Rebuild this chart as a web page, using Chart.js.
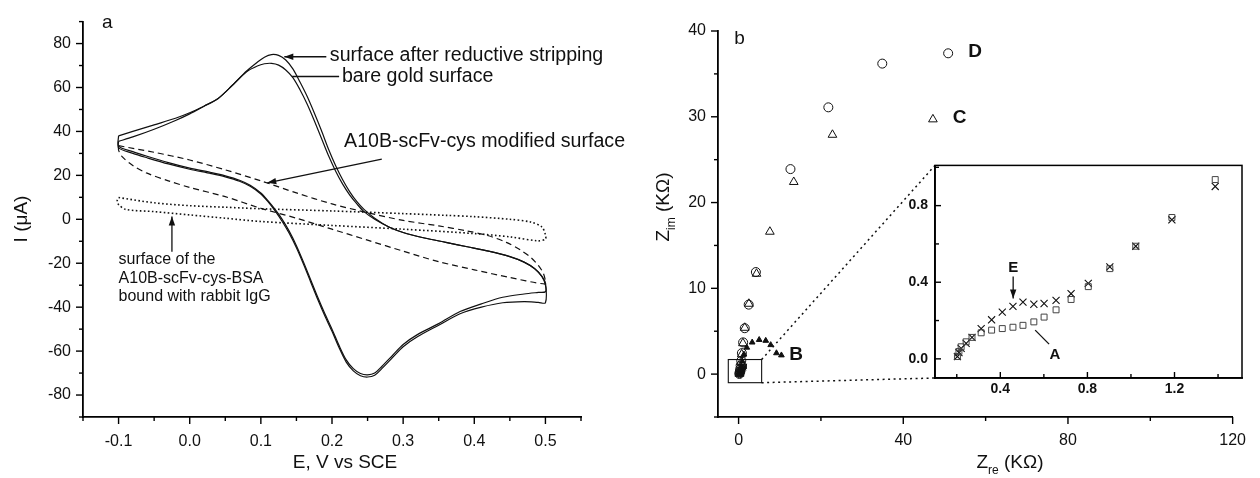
<!DOCTYPE html>
<html>
<head>
<meta charset="utf-8">
<script src="https://cdn.jsdelivr.net/npm/chart.js@4.4.1/dist/chart.umd.min.js"></script>
<style>
  body { margin: 0; background: #fff; }
  #wrap { position: relative; width: 1260px; height: 478px; }
  canvas { position: absolute; }
  #cvA { left: 0; top: 0; }
  #cvB { left: 620px; top: 0; }
  #cvInset { left: 880px; top: 150px; }
</style>
</head>
<body>
<div id="wrap">
  <canvas id="cvA" width="650" height="478"></canvas>
  <canvas id="cvB" width="640" height="478"></canvas>
  <canvas id="cvInset" width="380" height="260"></canvas>
</div>
<script>
const FONT = '"Liberation Sans", Arial, Helvetica, sans-serif';
const INK = '#111';

// ---- panel a: cyclic voltammograms (E in V vs SCE, I in uA) ----
// both solid curves were read on the same potential grid (forward then reverse scan)
const scanE = [-0.1, -0.08, -0.05, -0.02, 0.0, 0.02, 0.04, 0.06, 0.08, 0.095,
  0.105, 0.115, 0.125, 0.135, 0.145, 0.155, 0.165, 0.175, 0.185, 0.195,
  0.205, 0.215, 0.225, 0.235, 0.245, 0.26, 0.28, 0.3, 0.33, 0.36,
  0.39, 0.42, 0.45, 0.47, 0.485, 0.495, 0.5,
  0.5, 0.49, 0.47, 0.44, 0.41, 0.38, 0.35, 0.32, 0.3, 0.285,
  0.27, 0.26, 0.25, 0.24, 0.23, 0.22, 0.21, 0.2, 0.19, 0.18,
  0.17, 0.16, 0.15, 0.14, 0.13, 0.12, 0.11, 0.1, 0.085, 0.07,
  0.05, 0.03, 0.0, -0.03, -0.06, -0.08, -0.1, -0.1];
const strippedI = [38, 40, 43, 46, 48.5, 51.5, 55, 61, 67.5, 71.5,
  73.8, 75, 74.6, 72.5, 68.5, 62.5, 56, 48.5, 40.5, 32,
  24.5, 18, 12.5, 8, 4.5, 0.5, -3.5, -6, -8.5, -10.5,
  -12.5, -14.5, -17, -19.5, -22.5, -26, -30,
  -33, -33.3, -34, -35.5, -38.5, -42, -47.5, -52.5, -57, -62,
  -67, -70, -70.8, -70.2, -68, -64, -57.5, -50, -43, -35.5,
  -27.5, -19.5, -12, -5.5, 0, 4.5, 8.5, 12, 15.5, 17.8,
  19.8, 21.3, 23.3, 25.8, 28.7, 30.8, 33.3, 38];
const bareI = [35.5, 37.5, 41, 45, 48, 51.5, 55, 61, 67.2, 69.8,
  70.8, 71, 70.2, 68, 64.5, 59, 52.5, 45, 37, 29,
  22, 16, 11, 7, 3.5, 0, -3.5, -6, -8.5, -10.5,
  -12.5, -14.5, -17, -19.5, -22.5, -26, -29,
  -38, -37.8, -37.5, -38, -40, -43, -48.2, -53.5, -58, -63,
  -68, -71, -71.8, -71.2, -69, -65, -58.5, -51, -44, -36.5,
  -28.5, -20.5, -13, -6.5, -1, 3.8, 8, 11.5, 15, 17.3,
  19.3, 20.8, 22.8, 25.2, 28, 30, 32.5, 35.5];
const modifiedE = [-0.1, -0.05, 0, 0.05, 0.1, 0.15, 0.2, 0.25, 0.3, 0.35,
  0.39, 0.42, 0.445, 0.465, 0.48, 0.49, 0.497, 0.5,
  0.5, 0.45, 0.4, 0.35, 0.3, 0.25, 0.2, 0.15, 0.1, 0.05,
  0, -0.03, -0.06, -0.08, -0.095, -0.1, -0.1];
const modifiedI = [33.5, 30.5, 27, 22.5, 17.5, 12, 7, 3, -0.5, -3,
  -5.3, -7.5, -10.5, -14, -17.5, -21, -24.5, -28,
  -29.5, -26.5, -23, -19.3, -14.5, -9.5, -4.5, 0.5, 5, 10.3,
  14.5, 17.5, 21, 24.5, 28.5, 31.5, 33.5];
const boundE = [-0.1, -0.05, 0, 0.05, 0.1, 0.2, 0.3, 0.36, 0.4, 0.45,
  0.48, 0.495, 0.5,
  0.5, 0.49, 0.45, 0.4, 0.3, 0.2, 0.1, 0.05, 0, -0.05,
  -0.09, -0.1, -0.102, -0.1];
const boundI = [9.9, 7.5, 6.2, 5.5, 4.8, 3.8, 2.6, 1.8, 1.2, 0,
  -1.3, -3.5, -7,
  -9, -9.8, -8, -6.5, -4.5, -2.8, -1, 0.5, 2, 3.5,
  4.5, 6.7, 8.3, 9.9];

// ---- panel b: Nyquist plots (Zre, Zim in KOhm) ----
const dRe = [0.2, 0.25, 0.3, 0.4, 0.5, 0.65, 0.8, 1.1, 1.5, 2.45, 4.2, 12.6, 21.8, 34.9, 50.9];
const dIm = [0.02, 0.12, 0.3, 0.6, 1.0, 1.55, 2.45, 3.7, 5.35, 8.1, 11.9, 23.9, 31.1, 36.2, 37.4];
const cRe = [0.2, 0.25, 0.35, 0.45, 0.6, 0.75, 1.05, 1.5, 2.5, 4.35, 7.6, 13.4, 22.8, 47.2];
const cIm = [0.03, 0.15, 0.4, 0.8, 1.4, 2.3, 3.6, 5.4, 8.2, 11.7, 16.6, 22.4, 27.9, 29.7];
const bRe = [0.2, 0.3, 0.4, 0.6, 0.9, 1.3, 2.0, 3.3, 5.0, 6.6, 7.8, 9.2, 10.4];
const bIm = [0.05, 0.2, 0.45, 0.9, 1.5, 2.3, 3.1, 3.7, 4.0, 3.9, 3.4, 2.45, 2.2];
const aRe = [0.203, 0.21, 0.22, 0.243, 0.27, 0.312, 0.36, 0.409, 0.458, 0.504,
  0.554, 0.601, 0.656, 0.725, 0.804, 0.903, 1.022, 1.188, 1.387];
const aIm = [0.012, 0.038, 0.063, 0.089, 0.112, 0.136, 0.15, 0.158, 0.165, 0.175,
  0.193, 0.218, 0.256, 0.31, 0.377, 0.471, 0.588, 0.738, 0.936];
const eRe = [0.203, 0.21, 0.22, 0.243, 0.27, 0.312, 0.36, 0.409, 0.458, 0.504,
  0.554, 0.601, 0.656, 0.725, 0.804, 0.903, 1.022, 1.188, 1.387];
const eIm = [0.012, 0.033, 0.055, 0.081, 0.112, 0.158, 0.204, 0.244, 0.274, 0.296,
  0.285, 0.289, 0.305, 0.34, 0.394, 0.48, 0.588, 0.726, 0.90];
// region of the main plot that the inset magnifies
const zoomBoxRe = [-2.5, 5.6];
const zoomBoxIm = [-1, 1.7];

function pts(xs, ys) {
  return xs.map((x, i) => ({ x: x, y: ys[i] }));
}

function toPx(chart, x, y) {
  return [chart.scales.x.getPixelForValue(x), chart.scales.y.getPixelForValue(y)];
}

function arrowLine(ctx, x1, y1, x2, y2, head) {
  ctx.beginPath();
  ctx.moveTo(x1, y1);
  ctx.lineTo(x2, y2);
  ctx.stroke();
  if (head) {
    const a = Math.atan2(y2 - y1, x2 - x1), L = 9, W = 3.2;
    ctx.beginPath();
    ctx.moveTo(x2, y2);
    ctx.lineTo(x2 - L * Math.cos(a) + W * Math.sin(a), y2 - L * Math.sin(a) - W * Math.cos(a));
    ctx.lineTo(x2 - L * Math.cos(a) - W * Math.sin(a), y2 - L * Math.sin(a) + W * Math.cos(a));
    ctx.closePath();
    ctx.fill();
  }
}

// text labels and arrows, placed in data coordinates
function makeNotes(items) {
  return {
    id: 'notes',
    afterDraw(chart) {
      const ctx = chart.ctx;
      ctx.save();
      ctx.fillStyle = INK;
      ctx.strokeStyle = INK;
      ctx.lineWidth = 1.3;
      items.forEach(n => {
        if (n.line) {
          const [x1, y1] = toPx(chart, n.line[0], n.line[1]);
          const [x2, y2] = toPx(chart, n.line[2], n.line[3]);
          arrowLine(ctx, x1, y1, x2, y2, n.head);
        } else {
          const [x, y] = toPx(chart, n.x, n.y);
          ctx.font = n.font;
          ctx.textAlign = n.align || 'left';
          ctx.textBaseline = 'middle';
          ctx.fillText(n.text, x, y);
        }
      });
      ctx.restore();
    }
  };
}

// tick marks: labelled ticks long, the others short
function makeTicks(major, minor, inward) {
  return {
    id: 'tickMarks',
    afterDraw(chart) {
      const ctx = chart.ctx, area = chart.chartArea;
      const dir = inward ? -1 : 1;
      ctx.save();
      ctx.strokeStyle = '#000';
      ctx.lineWidth = 1.4;
      ['x', 'y'].forEach(id => {
        const scale = chart.scales[id];
        scale.ticks.forEach(t => {
          const len = t.label !== '' ? major : minor;
          const p = scale.getPixelForValue(t.value);
          ctx.beginPath();
          if (id === 'x') {
            ctx.moveTo(p, area.bottom);
            ctx.lineTo(p, area.bottom + dir * len);
          } else {
            ctx.moveTo(area.left, p);
            ctx.lineTo(area.left - dir * len, p);
          }
          ctx.stroke();
        });
      });
      ctx.restore();
    }
  };
}

// axis titles with optional subscripts, in canvas pixels
function makeTitles(list) {
  return {
    id: 'titles',
    afterDraw(chart) {
      const ctx = chart.ctx;
      list.forEach(tl => {
        ctx.save();
        ctx.translate(tl.x, tl.y);
        if (tl.rot) ctx.rotate(-Math.PI / 2);
        ctx.fillStyle = INK;
        ctx.textBaseline = 'middle';
        ctx.textAlign = 'left';
        let w = 0;
        tl.parts.forEach(p => {
          ctx.font = p.sub ? '12px ' + FONT : '19px ' + FONT;
          w += ctx.measureText(p.t).width;
        });
        let cx = -w / 2;
        tl.parts.forEach(p => {
          ctx.font = p.sub ? '12px ' + FONT : '19px ' + FONT;
          ctx.fillText(p.t, cx, p.sub ? 8 : 0);
          cx += ctx.measureText(p.t).width;
        });
        ctx.restore();
      });
    }
  };
}

function axisOpts(min, max, step, font, fmt, padding, extra) {
  return Object.assign({
    type: 'linear', min: min, max: max,
    grid: { display: false, drawTicks: false },
    border: { display: true, color: '#000', width: 1.8 },
    ticks: {
      stepSize: step, autoSkip: false, maxRotation: 0, includeBounds: false,
      padding: padding, color: INK, font: font,
      callback: fmt
    }
  }, extra);
}

const baseOpts = {
  responsive: false,
  animation: false,
  devicePixelRatio: 1,
  events: [],
  plugins: { legend: { display: false }, tooltip: { enabled: false } }
};

function curve(data, dash, width) {
  return {
    data: data, showLine: true, pointRadius: 0, borderColor: INK,
    borderWidth: width || 1.2, borderDash: dash || [], tension: 0.3, fill: false
  };
}

const tickFont = { family: FONT, size: 16 };
const noteFont = '19.6px ' + FONT;

// ---------------- panel a ----------------
const chartA = new Chart(document.getElementById('cvA'), {
  type: 'scatter',
  data: {
    datasets: [
      curve(pts(scanE, strippedI)),
      curve(pts(scanE, bareI)),
      curve(pts(modifiedE, modifiedI), [6, 4]),
      curve(pts(boundE, boundI), [1.6, 2.4], 1.6)
    ]
  },
  options: Object.assign({}, baseOpts, {
    layout: { padding: { top: 15, right: 69, left: 0, bottom: 0 } },
    scales: {
      x: axisOpts(-0.15, 0.55, 0.05, tickFont,
        v => Math.abs(Math.round(v * 20)) % 2 === 1 ? '' : (Math.round(v * 10) / 10).toFixed(1), 15,
        { afterFit: s => { s.height = 61; } }),
      y: axisOpts(-90, 90, 10, tickFont,
        v => Math.round(v) % 20 === 0 ? String(Math.round(v)) : '', 12,
        { afterFit: s => { s.width = 83; } })
    }
  }),
  plugins: [
    makeTicks(7, 4, false),
    makeTitles([
      { parts: [{ t: 'I (\u03bcA)' }], x: 22, y: 219, rot: true },
      { parts: [{ t: 'E, V vs SCE' }], x: 345, y: 463 }
    ]),
    makeNotes([
      { text: 'a', x: -0.116, y: 89.5, font: '19px ' + FONT, align: 'center' },
      { line: [0.192, 74, 0.133, 74], head: true },
      { text: 'surface after reductive stripping', x: 0.197, y: 74.4, font: noteFont },
      { line: [0.144, 65, 0.21, 65] },
      { text: 'bare gold surface', x: 0.214, y: 65, font: noteFont },
      { text: 'A10B-scFv-cys modified surface', x: 0.217, y: 35.4, font: noteFont },
      { line: [0.27, 27.4, 0.109, 16.6], head: true },
      { line: [-0.025, -14.8, -0.025, 1.3], head: true },
      { text: 'surface of the', x: -0.1, y: -18.4, font: '16px ' + FONT },
      { text: 'A10B-scFv-cys-BSA', x: -0.1, y: -26.9, font: '16px ' + FONT },
      { text: 'bound with rabbit IgG', x: -0.1, y: -35.4, font: '16px ' + FONT }
    ])
  ]
});

// ---------------- inset of panel b ----------------
const insetFmt = v => Math.round(v * 5) % 2 === 0 ? (Math.round(v * 10) / 10).toFixed(1) : '';
const insetTickFont = { family: FONT, size: 14, weight: 'bold' };
const insetCanvas = document.getElementById('cvInset');
const insetChart = new Chart(insetCanvas, {
  type: 'scatter',
  data: {
    datasets: [
      { data: pts(aRe, aIm), pointStyle: 'rect', pointRadius: 4.2, borderColor: '#444',
        backgroundColor: 'rgba(0,0,0,0)', borderWidth: 1 },
      { data: pts(eRe, eIm), pointStyle: 'crossRot', pointRadius: 5, borderColor: INK,
        borderWidth: 1.1 }
    ]
  },
  options: Object.assign({}, baseOpts, {
    layout: { padding: { top: 13, right: 18, left: 0, bottom: 0 } },
    scales: {
      x: axisOpts(0.1, 1.51, 0.2, insetTickFont, insetFmt, 3,
        { afterFit: s => { s.height = 32; } }),
      y: axisOpts(-0.1, 1.01, 0.2, insetTickFont, insetFmt, 7,
        { afterFit: s => { s.width = 55; } })
    }
  }),
  plugins: [
    {
      id: 'insetFrame',
      beforeDraw(chart) {
        const a = chart.chartArea, ctx = chart.ctx;
        ctx.save();
        ctx.fillStyle = '#fff';
        ctx.fillRect(a.left, a.top, a.right - a.left, a.bottom - a.top);
        ctx.restore();
      },
      afterDraw(chart) {
        const a = chart.chartArea, ctx = chart.ctx;
        ctx.save();
        ctx.strokeStyle = '#000';
        ctx.lineWidth = 1.5;
        ctx.strokeRect(a.left, a.top, a.right - a.left, a.bottom - a.top);
        ctx.restore();
      }
    },
    makeTicks(6, 4, true),
    makeNotes([
      { text: 'E', x: 0.459, y: 0.475, font: 'bold 15px ' + FONT, align: 'center' },
      { line: [0.459, 0.43, 0.459, 0.315], head: true },
      { text: 'A', x: 0.651, y: 0.021, font: 'bold 15px ' + FONT, align: 'center' },
      { line: [0.56, 0.15, 0.624, 0.077] }
    ])
  ]
});

// ---------------- panel b ----------------
const canvasB = document.getElementById('cvB');
const chartB = new Chart(canvasB, {
  type: 'scatter',
  data: {
    datasets: [
      { data: pts(dRe, dIm), pointStyle: 'circle', pointRadius: 4.5, borderColor: INK,
        backgroundColor: 'rgba(0,0,0,0)', borderWidth: 1 },
      { data: pts(cRe, cIm), pointStyle: 'triangle', pointRadius: 5, borderColor: INK,
        backgroundColor: 'rgba(0,0,0,0)', borderWidth: 1 },
      { data: pts(bRe, bIm), pointStyle: 'triangle', pointRadius: 3.3, borderColor: INK,
        backgroundColor: INK, borderWidth: 1 },
      { data: pts(aRe, aIm), pointStyle: 'rect', pointRadius: 3, borderColor: INK,
        backgroundColor: 'rgba(0,0,0,0)', borderWidth: 1 },
      { data: pts(eRe, eIm), pointStyle: 'crossRot', pointRadius: 3.5, borderColor: INK,
        borderWidth: 1 }
    ]
  },
  options: Object.assign({}, baseOpts, {
    layout: { padding: { top: 31, right: 17, left: 0, bottom: 0 } },
    scales: {
      x: axisOpts(-5, 120, 20, tickFont, v => v % 40 === 0 ? String(v) : '', 14,
        { afterFit: s => { s.height = 61; } }),
      y: axisOpts(-5, 40, 5, tickFont, v => v % 10 === 0 ? String(v) : '', 12,
        { afterFit: s => { s.width = 98; } })
    }
  }),
  plugins: [
    makeTicks(7, 4, false),
    {
      id: 'zoomLinks',
      afterDatasetsDraw(chart) {
        const ctx = chart.ctx;
        const [x1, yTop] = toPx(chart, zoomBoxRe[0], zoomBoxIm[1]);
        const [x2, yBot] = toPx(chart, zoomBoxRe[1], zoomBoxIm[0]);
        const ia = insetChart.chartArea;
        const dx = insetCanvas.offsetLeft - canvasB.offsetLeft;
        const dy = insetCanvas.offsetTop - canvasB.offsetTop;
        ctx.save();
        ctx.strokeStyle = INK;
        ctx.lineWidth = 1.1;
        ctx.strokeRect(x1, yTop, x2 - x1, yBot - yTop);
        ctx.setLineDash([2, 3.5]);
        ctx.lineWidth = 1.5;
        ctx.beginPath();
        ctx.moveTo(x2, yTop);
        ctx.lineTo(ia.left + dx, ia.top + dy);
        ctx.moveTo(x2, yBot);
        ctx.lineTo(ia.left + dx, ia.bottom + dy);
        ctx.stroke();
        ctx.restore();
      }
    },
    makeTitles([
      { parts: [{ t: 'Z' }, { t: 'im', sub: true }, { t: ' (K\u03a9)' }], x: 44, y: 207, rot: true },
      { parts: [{ t: 'Z' }, { t: 're', sub: true }, { t: ' (K\u03a9)' }], x: 390, y: 463 }
    ]),
    makeNotes([
      { text: 'b', x: 0.24, y: 39.1, font: '19px ' + FONT, align: 'center' },
      { text: 'D', x: 55.8, y: 37.6, font: 'bold 19px ' + FONT },
      { text: 'C', x: 52.0, y: 29.9, font: 'bold 19px ' + FONT },
      { text: 'B', x: 12.3, y: 2.2, font: 'bold 19px ' + FONT }
    ])
  ]
});
</script>
</body>
</html>
